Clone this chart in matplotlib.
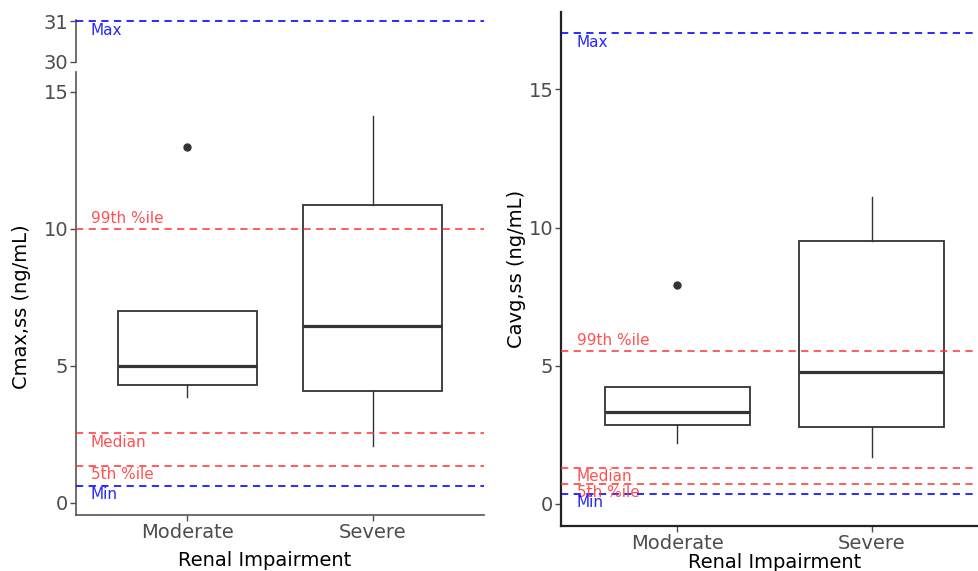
import matplotlib.pyplot as plt

groups = ["Moderate", "Severe"]

# Cmax,ss box statistics per group
cmax_whislo = [3.87, 2.08]
cmax_q1 = [4.31, 4.09]
cmax_med = [5.0, 6.46]
cmax_q3 = [7.0, 10.87]
cmax_whishi = [7.0, 14.12]
cmax_fliers = [[13.0], []]

# Cavg,ss box statistics per group
cavg_whislo = [2.21, 1.70]
cavg_q1 = [2.86, 2.79]
cavg_med = [3.33, 4.78]
cavg_q3 = [4.24, 9.53]
cavg_whishi = [4.24, 11.12]
cavg_fliers = [[7.93], []]

# reference exposure lines (label, value, colour, label above line?)
ref_labels = ["Max", "99th %ile", "Median", "5th %ile", "Min"]
ref_colors = ["#0000ff", "#ff3333", "#ff3333", "#ff3333", "#0000ff"]
ref_above = [False, True, False, False, False]
cmax_ref = [31.0, 10.0, 2.55, 1.35, 0.62]
cavg_ref = [17.03, 5.54, 1.30, 0.72, 0.36]

TICK_C = "#4d4d4d"


def box_stats(whislo, q1, med, q3, whishi, fliers):
    return [dict(whislo=a, q1=b, med=c, q3=d, whishi=e, fliers=f)
            for a, b, c, d, e, f in zip(whislo, q1, med, q3, whishi, fliers)]


def draw_boxes(ax, stats):
    ax.bxp(stats, positions=[1, 2], widths=0.75, showcaps=False,
           patch_artist=True,
           boxprops=dict(facecolor="white", edgecolor="#333333", linewidth=1.3),
           medianprops=dict(color="#333333", linewidth=2.3),
           whiskerprops=dict(color="#333333", linewidth=1.0),
           flierprops=dict(marker="o", markersize=5, markerfacecolor="#333333",
                           markeredgecolor="#333333"),
           zorder=2)


def draw_refs(ax, values, which=None):
    for i, (lab, v, c, up) in enumerate(zip(ref_labels, values, ref_colors, ref_above)):
        if which is not None and i not in which:
            continue
        ax.axhline(v, color=c, linestyle=(0, (4, 3)), linewidth=1.3,
                   alpha=0.9 if c == "#0000ff" else 0.85, zorder=3)
        dy = 10 if up else -9
        ax.annotate(lab, (0.48, v), xytext=(0, dy), textcoords="offset pixels",
                    color=c, alpha=0.85, fontsize=11, ha="left", va="center",
                    zorder=4)


def style_axis(ax, color, lw):
    for s in ["top", "right"]:
        ax.spines[s].set_visible(False)
    for s in ["left", "bottom"]:
        ax.spines[s].set_color(color)
        ax.spines[s].set_linewidth(lw)
    ax.tick_params(colors=TICK_C, labelsize=14, length=4, width=1.0, pad=1.5)


fig = plt.figure(figsize=(9.79, 5.71), dpi=100)

W, H = 979, 571


def px_axes(x0, y0, x1, y1):
    return fig.add_axes([x0 / W, 1 - y1 / H, (x1 - x0) / W, (y1 - y0) / H])


# left panel: broken y axis
ax_lo = px_axes(76, 72, 484, 515)
ax_hi = px_axes(76, 20, 484, 62)

draw_boxes(ax_lo, box_stats(cmax_whislo, cmax_q1, cmax_med, cmax_q3,
                            cmax_whishi, cmax_fliers))
draw_refs(ax_lo, cmax_ref, which=[1, 2, 3, 4])
draw_refs(ax_hi, cmax_ref, which=[0])

ax_lo.set_xlim(0.4, 2.6)
ax_lo.set_ylim(-0.44, 15.73)
ax_lo.set_yticks([0, 5, 10, 15])
ax_lo.set_xticks([1, 2])
ax_lo.set_xticklabels(groups)
style_axis(ax_lo, "#555555", 1.2)
ax_lo.set_ylabel("Cmax,ss (ng/mL)", fontsize=14)
ax_lo.yaxis.set_label_coords(-0.11, 0.47)

ax_hi.set_xlim(0.4, 2.6)
ax_hi.set_ylim(30.0, 31.03)
ax_hi.set_yticks([30, 31])
ax_hi.set_xticks([])
style_axis(ax_hi, "#555555", 1.2)
ax_hi.spines["bottom"].set_visible(False)

fig.text(265 / W, 1 - 561 / H, "Renal Impairment", fontsize=14,
         ha="center", va="center")

# right panel
ax_r = px_axes(561, 12, 988, 526)
draw_boxes(ax_r, box_stats(cavg_whislo, cavg_q1, cavg_med, cavg_q3,
                           cavg_whishi, cavg_fliers))
draw_refs(ax_r, cavg_ref)
ax_r.set_xlim(0.4, 2.6)
ax_r.set_ylim(-0.8, 17.8)
ax_r.set_yticks([0, 5, 10, 15])
ax_r.set_xticks([1, 2])
ax_r.set_xticklabels(groups)
style_axis(ax_r, "#222222", 1.6)
ax_r.set_ylabel("Cavg,ss (ng/mL)", fontsize=14)
ax_r.yaxis.set_label_coords(-0.083, 0.5)
ax_r.set_xlabel("Renal Impairment", fontsize=14, labelpad=0)

fig.savefig("out.png", dpi=100)
